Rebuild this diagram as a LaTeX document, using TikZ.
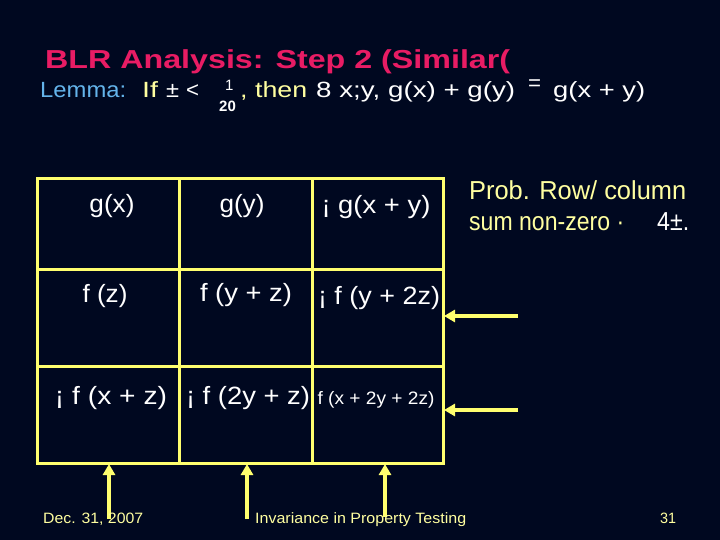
\documentclass[tikz,border=0pt]{standalone}
\usepackage{fontspec}
\usepackage{graphicx}
\setmainfont{Liberation Sans}
\usetikzlibrary{arrows.meta}
\definecolor{bg}{RGB}{0,8,32}
\definecolor{ttl}{RGB}{232,28,100}
\definecolor{lblue}{RGB}{100,180,235}
\definecolor{pyel}{RGB}{255,255,160}
\definecolor{gline}{RGB}{255,255,110}
\newcommand{\fitw}[2]{\resizebox{#1}{\height}{#2}}
\begin{document}
\begin{tikzpicture}[x=1pt,y=-1pt,
  txt/.style={inner sep=0pt, anchor=base west},
  cell/.style={inner sep=0pt, anchor=base, text=white, font=\fontsize{25}{28}\selectfont},
  grid/.style={draw=gline, line width=3pt},
  arr/.style={draw=gline, line width=4pt, -{Triangle[width=12pt,length=11pt]}}]
\fill[bg] (0,0) rectangle (720,540);
\useasboundingbox (0,0) rectangle (720,540);
% title
\node[txt, text=ttl, font=\fontsize{26}{30}\selectfont\bfseries] (title) at (45,69) {\fitw{465pt}{BLR Analysis: Step 2 (Similar(}};
% lemma line
\begin{scope}[font=\fontsize{22}{26}\selectfont]
\node[txt, text=lblue] (lem) at (40,98) {\fitw{86pt}{Lemma:}};
\node[txt, text=pyel] (lif) at (142,98) {\fitw{16pt}{If}};
\node[txt, text=white] (lpm) at (166,98) {\fitw{13pt}{±}};
\node[txt, text=white] (llt) at (186,98) {\fitw{13pt}{<}};
\node[txt, text=white, font=\fontsize{15}{17}\selectfont] (lone) at (225,91) {1};
\node[txt, text=white, font=\fontsize{15}{17}\selectfont\bfseries] (ltwenty) at (219,112) {20};
\node[txt, text=pyel] (lthen) at (240,98) {\fitw{67pt}{, then}};
\node[txt, text=white] (lfor) at (316,98) {\fitw{199pt}{8 x;y, g(x) + g(y)}};
\node[txt, text=white] (leq) at (528,91) {\fitw{13pt}{=}};
\node[txt, text=white] (lgxy) at (553,98) {\fitw{92pt}{g(x + y)}};
\end{scope}
% table grid
\draw[grid] (37,179) rectangle (443,463);
\draw[grid] (179,179) -- (179,463);
\draw[grid] (312,179) -- (312,463);
\draw[grid] (37,269) -- (443,269);
\draw[grid] (37,366) -- (443,366);
% cells
\node[cell] (c11) at (112,213) {\fitw{45pt}{g(x)}};
\node[cell] (c12) at (242,212) {\fitw{45pt}{g(y)}};
\node[cell] (c13) at (376,214) {\fitw{109pt}{¡ g(x + y)}};
\node[cell] (c21) at (105,302) {\fitw{45pt}{f (z)}};
\node[cell] (c22) at (246,301) {\fitw{92pt}{f (y + z)}};
\node[cell] (c23) at (379,304) {\fitw{122pt}{¡ f (y + 2z)}};
\node[cell] (c31) at (111,404) {\fitw{112pt}{¡ f (x + z)}};
\node[cell] (c32) at (248,404) {\fitw{124pt}{¡ f (2y + z)}};
\node[cell, font=\fontsize{18}{21}\selectfont] (c33) at (376,404) {\fitw{117pt}{f (x + 2y + 2z)}};
% right text
\begin{scope}[font=\fontsize{26}{30}\selectfont]
\node[txt, text=pyel] (prob1) at (469,200) {\fitw{217pt}{Prob.  Row/ column}};
\node[txt, text=pyel] (prob2) at (469,230) {\fitw{155pt}{sum non-zero ·}};
\node[txt, text=white] (prob3) at (657,230) {\fitw{32pt}{4±.}};
\end{scope}
% arrows
\coordinate (r1s) at (518,316); \coordinate (r1e) at (444,316);
\coordinate (r2s) at (518,410); \coordinate (r2e) at (444,410);
\coordinate (b1s) at (109,519); \coordinate (b1e) at (109,464);
\coordinate (b2s) at (247,519); \coordinate (b2e) at (247,464);
\coordinate (b3s) at (385,517); \coordinate (b3e) at (385,464);
\draw[arr] (r1s) -- (r1e);
\draw[arr] (r2s) -- (r2e);
\draw[arr] (b1s) -- (b1e);
\draw[arr] (b2s) -- (b2e);
\draw[arr] (b3s) -- (b3e);
% footer
\begin{scope}[font=\fontsize{15}{17}\selectfont, text=pyel]
\node[txt] (fdate) at (43,523) {\fitw{100pt}{Dec. 31, 2007}};
\node[txt] (ftitle) at (255,523) {\fitw{211pt}{Invariance in Property Testing}};
\node[txt] (fpage) at (660,523) {\fitw{16pt}{31}};
\end{scope}
\end{tikzpicture}
\end{document}
